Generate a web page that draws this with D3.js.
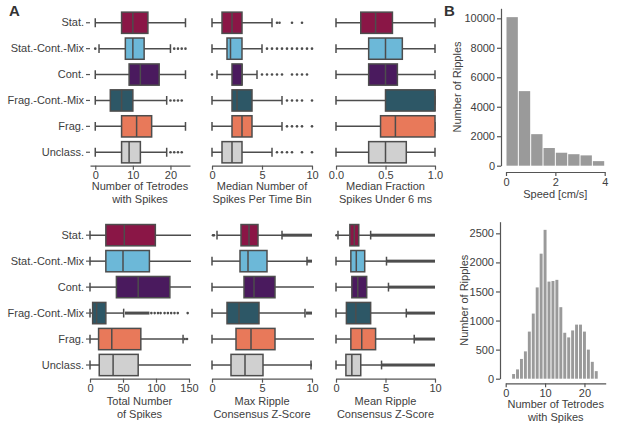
<!DOCTYPE html>
<html><head><meta charset="utf-8">
<script src="https://cdn.jsdelivr.net/npm/d3@7"></script>
<style>
body{margin:0;background:#fff}
svg{display:block}
text{font-family:"Liberation Sans",Arial,sans-serif;fill:#404040}
</style>
</head><body>
<svg id="c" width="617" height="431"></svg>
<script>
// ---------- DATA ----------
const categories = ["Stat.", "Stat.-Cont.-Mix", "Cont.", "Frag.-Cont.-Mix", "Frag.", "Unclass."];
const categoryColors = ["#8a1646", "#6cb8d8", "#4a1a5e", "#2d5766", "#e8795a", "#d0d0d0"];

// box stats per category: [whiskerLow, q1, median, q3, whiskerHigh]
const tetrodeStats = [[0,7,10,14,24],[1,8,10,13,20],[0,9,12,17,24],[0,4,7,10,19],[0,7,11,15,24],[0,7,9,12,19]];
const tetrodeOutliers = [[],[0,21,22,23,24],[],[20,21,22,23],[],[20,21,22,23]];
const tetrodeBands = [[],[],[],[],[],[]];
const tetrodeTicks = [0,10,20];

const spikesPerBinStats = [[0,1,2,3,6],[0,1.5,1.85,3,5],[0.5,2,3,3,4.5],[0,2,2.5,4,7],[0,2,3,4,7],[0,1,2,3,6]];
const spikesPerBinOutliers = [[6.5,6.75,8,9],[5.5,6,6.5,7,7.5,8,8.5,9,9.5,10],[0,5,5.5,6,6.5,7,8,8.5,9,9.5],[7.5,8,8.5,9,10],[7.5,8,8.5,9,10],[6.5,7,7.5,8,9,10]];
const spikesPerBinBands = [[],[],[],[],[],[]];
const spikesPerBinTicks = [0,5,10];

const fractionStats = [[0,0.25,0.4,0.57,1],[0,0.33,0.5,0.67,1],[0,0.33,0.5,0.62,1],[0,0.5,1,1,1],[0,0.45,0.6,1,1],[0,0.33,0.5,0.71,1]];
const fractionOutliers = [[],[],[],[],[],[]];
const fractionBands = [[],[],[],[],[],[]];
const fractionTicks = [0,0.5,1];

const totalSpikesStats = [[0,24,52,99,160],[0,24,50,90,160],[0,40,73,121,170],[0,4,10,24,51],[0,13,33,77,141],[0,14,35,73,155]];
const totalSpikesOutliers = [[],[],[],[93,98,103,107,113,118,123,128,133,148],[143.5,147],[]];
const totalSpikesBands = [[],[],[],[[53,90]],[],[]];
const totalSpikesTicks = [0,50,100,150];

const maxZStats = [[0.5,2.9,3.7,4.6,7],[0,2.8,3.6,5.5,9.5],[0,3.2,4.2,6.3,10.5],[0,1.5,2.7,4.7,9.3],[0,2.4,3.9,6.3,10.5],[0,1.9,3.3,5.1,9.9]];
const maxZOutliers = [[0.1,0.2],[],[],[],[],[]];
const maxZBands = [[[7,10]],[[9.5,10]],[],[[9.4,10]],[],[[9.9,10]]];
const maxZTicks = [0,5,10];

const meanZStats = [[0.2,1.4,1.85,2.3,3.5],[0,1.5,2.05,2.9,5.1],[0,1.6,2.2,3.1,5.3],[0,1.05,2.0,3.5,7.1],[0,1.5,2.6,4.0,7.9],[0,1.0,1.6,2.5,4.6]];
const meanZOutliers = [[0.05],[],[],[],[],[]];
const meanZBands = [[[3.5,10]],[[5.1,10]],[[5.3,10]],[[7.1,10]],[[7.9,10]],[[4.6,10]]];
const meanZTicks = [0,5,10];

// histogram B (top): speed
const speedBinStarts = [0,0.5,1,1.5,2,2.5,3,3.5];
const speedBinWidth = 0.5;
const speedCounts = [10080,5060,2140,1200,880,780,700,310];
const speedXTicks = [0,2,4];
const speedYTicks = [0,2000,4000,6000,8000,10000];

// histogram B (bottom): number of tetrodes with spikes
const tetrodeBinCenters = [2,3,4,5,6,7,8,9,10,11,12,13,14,15,16,17,18,19,20,21,22,23];
const tetrodeCounts = [80,160,340,470,810,1120,1570,2150,2560,1670,1680,1700,1230,790,710,830,930,930,810,500,290,130];
const tetrodeXTicks = [0,10,20];
const tetrodeYTicks = [0,500,1000,1500,2000,2500];

// ---------- LAYOUT / STYLE ----------
const svg = d3.select("#c");
const LINE = "#4d4d4d";
const AXIS = "#555";
const FS = 11;

function styleAxis(g){
  g.selectAll("path.domain").attr("stroke", AXIS).attr("stroke-width", 1.2);
  g.selectAll(".tick line").attr("stroke", AXIS).attr("stroke-width", 1.2);
  g.selectAll(".tick text").attr("font-size", FS).attr("fill", "#404040")
    .style("font-family", '"Liberation Sans",Arial,sans-serif');
}

let clipId = 0;
function drawBoxPanel(cfg){
  const x = d3.scaleLinear().domain(cfg.domain).range(cfg.range);
  const y = d3.scaleBand().domain(categories).range(cfg.yRange);
  const g = svg.append("g");
  const id = "clip" + (clipId++);
  svg.append("clipPath").attr("id", id).append("rect")
    .attr("x", cfg.range[0]-3).attr("y", cfg.yRange[0]-5)
    .attr("width", cfg.range[1]-cfg.range[0]+5).attr("height", cfg.yRange[1]-cfg.yRange[0]+10);
  const pg = g.append("g").attr("clip-path", `url(#${id})`);
  const bh = y.bandwidth()*0.82;
  const capH = y.bandwidth()*0.34;
  categories.forEach((c,i)=>{
    const [lo,q1,med,q3,hi] = cfg.stats[i];
    const cy = y(c) + y.bandwidth()/2;
    cfg.bands[i].forEach(b=>{
      pg.append("rect").attr("x", x(b[0])).attr("y", cy-1.5)
        .attr("width", x(b[1])-x(b[0])).attr("height", 3).attr("fill", LINE);
    });
    cfg.outliers[i].forEach(v=>{
      pg.append("circle").attr("cx", x(v)).attr("cy", cy).attr("r", 1.3).attr("fill", LINE);
    });
    pg.append("line").attr("x1", x(lo)).attr("x2", x(q1)).attr("y1", cy).attr("y2", cy)
      .attr("stroke", LINE).attr("stroke-width", 1.5);
    pg.append("line").attr("x1", x(q3)).attr("x2", x(hi)).attr("y1", cy).attr("y2", cy)
      .attr("stroke", LINE).attr("stroke-width", 1.5);
    [lo,hi].forEach(v=>{
      pg.append("line").attr("x1", x(v)).attr("x2", x(v)).attr("y1", cy-capH/2).attr("y2", cy+capH/2)
        .attr("stroke", LINE).attr("stroke-width", 1.5);
    });
    pg.append("rect").attr("x", x(q1)).attr("y", cy-bh/2)
      .attr("width", x(q3)-x(q1)).attr("height", bh)
      .attr("fill", categoryColors[i]).attr("stroke", LINE).attr("stroke-width", 1.5);
    pg.append("line").attr("x1", x(med)).attr("x2", x(med)).attr("y1", cy-bh/2).attr("y2", cy+bh/2)
      .attr("stroke", LINE).attr("stroke-width", 1.5);
  });
  const ax = g.append("g").attr("transform", `translate(0,${cfg.axisY})`)
    .call(d3.axisBottom(x).tickValues(cfg.ticks).tickSize(4).tickPadding(2).tickSizeOuter(0)
      .tickFormat(cfg.fmt || d3.format("d")));
  styleAxis(ax);
  if (cfg.showLabels){
    const ay = g.append("g").attr("transform", `translate(${cfg.range[0]},0)`)
      .call(d3.axisLeft(y).tickSize(4).tickPadding(2));
    styleAxis(ay);
    ay.select("path.domain").remove();
  }
  const cx = (cfg.range[0]+cfg.range[1])/2;
  cfg.title.forEach((t,k)=>{
    g.append("text").attr("x", cx).attr("y", cfg.titleY + k*13)
      .attr("text-anchor","middle").attr("font-size", FS).text(t);
  });
}

const topY = [9.8, 165.2], botY = [222.2, 378];
drawBoxPanel({stats: tetrodeStats, outliers: tetrodeOutliers, bands: tetrodeBands, ticks: tetrodeTicks,
  domain:[-1.4,25.2], range:[90,190], yRange: topY, axisY:165.7, titleY:190, showLabels:true,
  title:["Number of Tetrodes","with Spikes"]});
drawBoxPanel({stats: spikesPerBinStats, outliers: spikesPerBinOutliers, bands: spikesPerBinBands, ticks: spikesPerBinTicks,
  domain:[0,10], range:[212,312], yRange: topY, axisY:165.7, titleY:190,
  title:["Median Number of","Spikes Per Time Bin"]});
drawBoxPanel({stats: fractionStats, outliers: fractionOutliers, bands: fractionBands, ticks: fractionTicks,
  domain:[0,1], range:[336,435], yRange: topY, axisY:165.7, titleY:190, fmt: d3.format(".1f"),
  title:["Median Fraction","Spikes Under 6 ms"]});
drawBoxPanel({stats: totalSpikesStats, outliers: totalSpikesOutliers, bands: totalSpikesBands, ticks: totalSpikesTicks,
  domain:[0,150], range:[90,189], yRange: botY, axisY:378.7, titleY:404.5, showLabels:true,
  title:["Total Number","of Spikes"]});
drawBoxPanel({stats: maxZStats, outliers: maxZOutliers, bands: maxZBands, ticks: maxZTicks,
  domain:[0,10], range:[212,312], yRange: botY, axisY:378.7, titleY:404.5,
  title:["Max Ripple","Consensus Z-Score"]});
drawBoxPanel({stats: meanZStats, outliers: meanZOutliers, bands: meanZBands, ticks: meanZTicks,
  domain:[0,10], range:[336,435], yRange: botY, axisY:378.7, titleY:404.5,
  title:["Mean Ripple","Consensus Z-Score"]});

// ---------- Histograms ----------
function drawHist(cfg){
  const g = svg.append("g");
  const x = d3.scaleLinear().domain(cfg.xDomain).range(cfg.xRange);
  const y = d3.scaleLinear().domain(cfg.yDomain).range(cfg.yRange);
  cfg.starts.forEach((s,i)=>{
    const x0 = x(s), x1 = x(s+cfg.width);
    g.append("rect").attr("x", x0+0.5).attr("width", Math.max(0, x1-x0-1))
      .attr("y", y(cfg.counts[i])).attr("height", y(0)-y(cfg.counts[i]))
      .attr("fill", "#9a9a9a");
  });
  const ax = g.append("g").attr("transform", `translate(0,${cfg.xAxisY})`)
    .call(d3.axisBottom(x).tickValues(cfg.xTicks).tickSize(4).tickPadding(2).tickSizeOuter(0).tickFormat(d3.format("d")));
  styleAxis(ax);
  const ay = g.append("g").attr("transform", `translate(${cfg.yAxisX},0)`)
    .call(d3.axisLeft(y).tickValues(cfg.yTicks).tickSize(4).tickPadding(2).tickSizeOuter(0).tickFormat(d3.format("d")));
  styleAxis(ay);
  const cx = (cfg.xRange[0]+cfg.xRange[1])/2;
  cfg.title.forEach((t,k)=>{
    g.append("text").attr("x", cx).attr("y", cfg.titleY + k*13)
      .attr("text-anchor","middle").attr("font-size", FS).text(t);
  });
  g.append("text").attr("transform", `translate(${cfg.yLabelX},${(cfg.yRange[0]+cfg.yRange[1])/2}) rotate(-90)`)
    .attr("text-anchor","middle").attr("font-size", FS).text("Number of Ripples");
}

drawHist({starts: speedBinStarts, width: speedBinWidth, counts: speedCounts,
  xDomain:[0,4], xRange:[506,604.7], yDomain:[0,10680], yRange:[165.7,8.3],
  xAxisY:172, yAxisX:501, xTicks: speedXTicks, yTicks: speedYTicks,
  titleY:197.5, title:["Speed [cm/s]"], yLabelX:461});

drawHist({starts: tetrodeBinCenters.map(c=>c-0.5), width: 1, counts: tetrodeCounts,
  xDomain:[0,25.4], xRange:[505.7,605.7], yDomain:[0,2700], yRange:[378.7,221.7],
  xAxisY:383.3, yAxisX:500, xTicks: tetrodeXTicks, yTicks: tetrodeYTicks,
  titleY:408, title:["Number of Tetrodes","with Spikes"], yLabelX:468});

svg.append("text").attr("x", 9).attr("y", 16).attr("font-size", 15).attr("font-weight","bold")
  .style("fill","#333").text("A");
svg.append("text").attr("x", 444).attr("y", 16).attr("font-size", 15).attr("font-weight","bold")
  .style("fill","#333").text("B");
</script>
</body></html>
